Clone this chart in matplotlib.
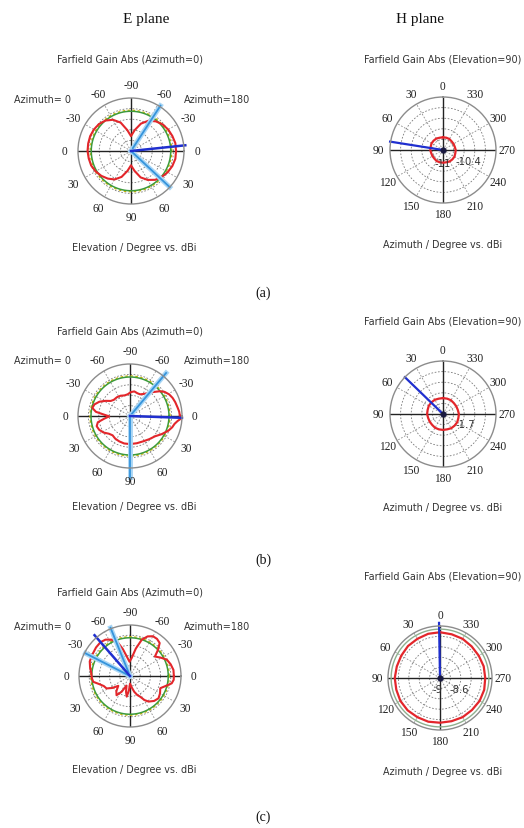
import numpy as np
import matplotlib.pyplot as plt

W, H = 524, 829

# E plane cuts: screen angle (deg, ccw from right) and relative radius
e_a_ang = list(range(0, 360, 10))
e_a_r = [0.85, 0.85, 0.83, 0.81, 0.78, 0.73, 0.66, 0.55, 0.40, 0.28, 0.40, 0.57,
         0.68, 0.75, 0.79, 0.81, 0.82, 0.82, 0.82, 0.81, 0.80, 0.77, 0.73, 0.68,
         0.62, 0.52, 0.38, 0.27, 0.38, 0.53, 0.63, 0.71, 0.76, 0.80, 0.83, 0.85]

e_b_ang = [0, 5, 10, 17, 23, 29, 35, 40, 46, 52, 58, 65, 72, 80, 88, 96, 105, 115, 125, 135,
           142, 148, 155, 162, 168, 173, 177, 181, 186, 191, 197, 204, 212, 220, 228, 237,
           247, 258, 270, 284, 298, 310, 321, 330, 339, 345, 350, 354, 357]
e_b_r = [0.96, 0.95, 0.93, 0.91, 0.89, 0.86, 0.81, 0.74, 0.64, 0.56, 0.50, 0.46, 0.46, 0.48,
         0.46, 0.42, 0.41, 0.43, 0.44, 0.44, 0.47, 0.55, 0.65, 0.72, 0.74, 0.66, 0.50, 0.40,
         0.50, 0.63, 0.67, 0.65, 0.60, 0.53, 0.50, 0.52, 0.53, 0.54, 0.54, 0.54, 0.55, 0.58,
         0.62, 0.70, 0.79, 0.84, 0.87, 0.92, 0.98]

e_c_ang = [0, 8, 16, 24, 31, 38, 43, 48, 54, 60, 66, 72, 78, 85, 92, 99, 105, 110, 117, 124,
           131, 140, 150, 160, 168, 176, 183, 189, 195, 201, 208, 214, 220, 228, 235, 242,
           250, 256, 261, 266, 270, 278, 285, 291, 296, 301, 306, 314, 322, 330, 338, 344,
           350, 355]
e_c_r = [0.86, 0.86, 0.83, 0.79, 0.70, 0.62, 0.75, 0.87, 0.90, 0.90, 0.85, 0.75, 0.55, 0.35,
         0.28, 0.38, 0.55, 0.70, 0.80, 0.86, 0.88, 0.87, 0.85, 0.84, 0.80, 0.76, 0.75, 0.73,
         0.62, 0.55, 0.52, 0.42, 0.30, 0.40, 0.46, 0.35, 0.20, 0.32, 0.41, 0.28, 0.15, 0.22,
         0.32, 0.40, 0.45, 0.55, 0.62, 0.68, 0.71, 0.68, 0.64, 0.72, 0.83, 0.86]

# H plane cuts: azimuth every 15 deg, relative radius
h_ang = list(range(0, 360, 15))
h_a_r = [0.24, 0.24, 0.25, 0.25, 0.25, 0.24, 0.24, 0.23, 0.23, 0.23, 0.24, 0.24,
         0.24, 0.24, 0.25, 0.25, 0.25, 0.24, 0.24, 0.23, 0.23, 0.23, 0.24, 0.24]
h_b_r = [0.30, 0.30, 0.31, 0.31, 0.31, 0.30, 0.30, 0.29, 0.29, 0.29, 0.30, 0.30,
         0.30, 0.30, 0.31, 0.31, 0.31, 0.30, 0.30, 0.29, 0.29, 0.29, 0.30, 0.30]
h_c_r = [0.88, 0.88, 0.87, 0.87, 0.86, 0.86, 0.87, 0.87, 0.88, 0.88, 0.87, 0.87,
         0.86, 0.86, 0.87, 0.87, 0.88, 0.88, 0.87, 0.87, 0.86, 0.86, 0.87, 0.87]

# main lobe direction and 3 dB limits (deg, length)
e_main = [(6, 1.03), (-2, 1.0), (131, 1.06)]
e_3db = [[(57, 1.02), (-43, 1.0)], [(50, 1.08), (-90, 1.18)], [(112, 1.02), (153, 0.98)]]
h_main = [(81, 1.01), (46, 1.0), (1, 1.06)]

e_ticks = ['0', '-30', '-60', '-90', '-60', '-30', '0', '30', '60', '90', '60', '30']
h_ticks = [str(a) for a in range(0, 360, 30)]

fig = plt.figure(figsize=(W / 100, H / 100), dpi=100)


def polar_ax(cx, cy, R, hplane=False):
    ax = fig.add_axes([(cx - R) / W, 1 - (cy + R) / H, 2 * R / W, 2 * R / H], projection='polar')
    if hplane:
        ax.set_theta_zero_location('N')
    ax.set_ylim(0, 1)
    ax.set_xticks([])
    ax.set_yticks([])
    ax.grid(False)
    ax.spines['polar'].set_color('#8c8c8c')
    ax.spines['polar'].set_linewidth(1.0)
    full = np.linspace(0, 2 * np.pi, 200)
    for rr in [0.2, 0.4, 0.6, 0.8]:
        ax.plot(full, np.full_like(full, rr), color='#7a7a7a', lw=0.6, ls=(0, (2, 2)))
    for a in range(0, 360, 30):
        t = np.radians(a)
        if a % 90 == 0:
            ax.plot([t, t], [0, 1], color='#222222', lw=1.0)
        else:
            ax.plot([t, t], [0, 1], color='#8a8a8a', lw=0.6, ls=(0, (2, 2)))
    labels = h_ticks if hplane else e_ticks
    dist = 1.21 if hplane else 1.25
    for a, lab in zip(range(0, 360, 30), labels):
        ax.text(np.radians(a), dist, lab, ha='center', va='center', fontsize=8.3,
                family='Liberation Serif', color='#222222', clip_on=False)
    return ax


def ring(ax, rr, color, lw, ls='-'):
    full = np.linspace(0, 2 * np.pi, 200)
    ax.plot(full, np.full_like(full, rr), color=color, lw=lw, ls=ls)


def closed(ang, r):
    t = np.radians(list(ang) + [ang[0]])
    return t, list(r) + [r[0]]


def ftext(x, y, s, **kw):
    fig.text(x / W, 1 - y / H, s, ha='center', va='center', **kw)


sans = dict(fontsize=6.9, family='DejaVu Sans', color='#333333')
serif = dict(fontsize=11, family='Liberation Serif', color='#111111')

ftext(146, 20, 'E plane', **serif)
ftext(420, 20, 'H plane', **serif)

e_pos = [(131, 152, 53), (130, 417, 52), (130, 677, 51)]
h_pos = [(443, 151, 53), (443, 415, 53), (440, 679, 52)]
e_title_y = [60, 332, 593]
h_title_y = [60, 322, 577]
e_bottom_y = [248, 507, 770]
h_bottom_y = [245, 508, 772]
az_y = [100, 361, 627]
e_data = [(e_a_ang, e_a_r), (e_b_ang, e_b_r), (e_c_ang, e_c_r)]
h_data = [h_a_r, h_b_r, h_c_r]
h_vals = [[(443, 164, '-11'), (468, 162, '-10.4')], [(465, 425, '-1.7')],
          [(438, 690, '-9'), (459, 690, '-8.6')]]
sub_y = [293, 560, 817]

for i in range(3):
    cx, cy, R = e_pos[i]
    ax = polar_ax(cx, cy, R)
    ring(ax, 0.77, '#c8b400', 0.9, (0, (2, 2)))
    ring(ax, 0.75, '#3c9a3c', 1.1)
    t, r = closed(*e_data[i])
    ax.plot(t, r, color='#e3262b', lw=1.5)
    for a, ln in e_3db[i]:
        ax.plot([np.radians(a)] * 2, [0, ln], color='#a9d6f5', lw=3.5, clip_on=False)
        ax.plot([np.radians(a)] * 2, [0, ln], color='#3594dc', lw=1.3, clip_on=False)
    a, ln = e_main[i]
    ax.plot([np.radians(a)] * 2, [0, ln], color='#1f2fcf', lw=1.8, clip_on=False)
    ftext(130, e_title_y[i], 'Farfield Gain Abs (Azimuth=0)', **sans)
    ftext(134, e_bottom_y[i], 'Elevation / Degree vs. dBi', **sans)
    ftext(42, az_y[i], 'Azimuth= 0', **sans)
    ftext(217, az_y[i], 'Azimuth=180', **sans)

    cx, cy, R = h_pos[i]
    ax = polar_ax(cx, cy, R, hplane=True)
    if i == 2:
        ring(ax, 0.94, '#8fb08f', 1.0)
    t, r = closed(h_ang, h_data[i])
    ax.plot(t, r, color='#e3262b', lw=1.6)
    a, ln = h_main[i]
    ax.plot([np.radians(a)] * 2, [0, ln], color='#1f2fcf', lw=1.6, clip_on=False)
    ax.plot([0], [0], 'o', color='#1a1a40', ms=3.5)
    ftext(443, h_title_y[i], 'Farfield Gain Abs (Elevation=90)', **sans)
    ftext(443, h_bottom_y[i], 'Azimuth / Degree vs. dBi', **sans)
    for x, y, s in h_vals[i]:
        ftext(x, y, s, fontsize=7.2, family='DejaVu Sans', color='#333333')

    ftext(263, sub_y[i], '(%s)' % 'abc'[i], fontsize=10, family='Liberation Serif', color='#111111')

fig.savefig('out.png', dpi=100)
